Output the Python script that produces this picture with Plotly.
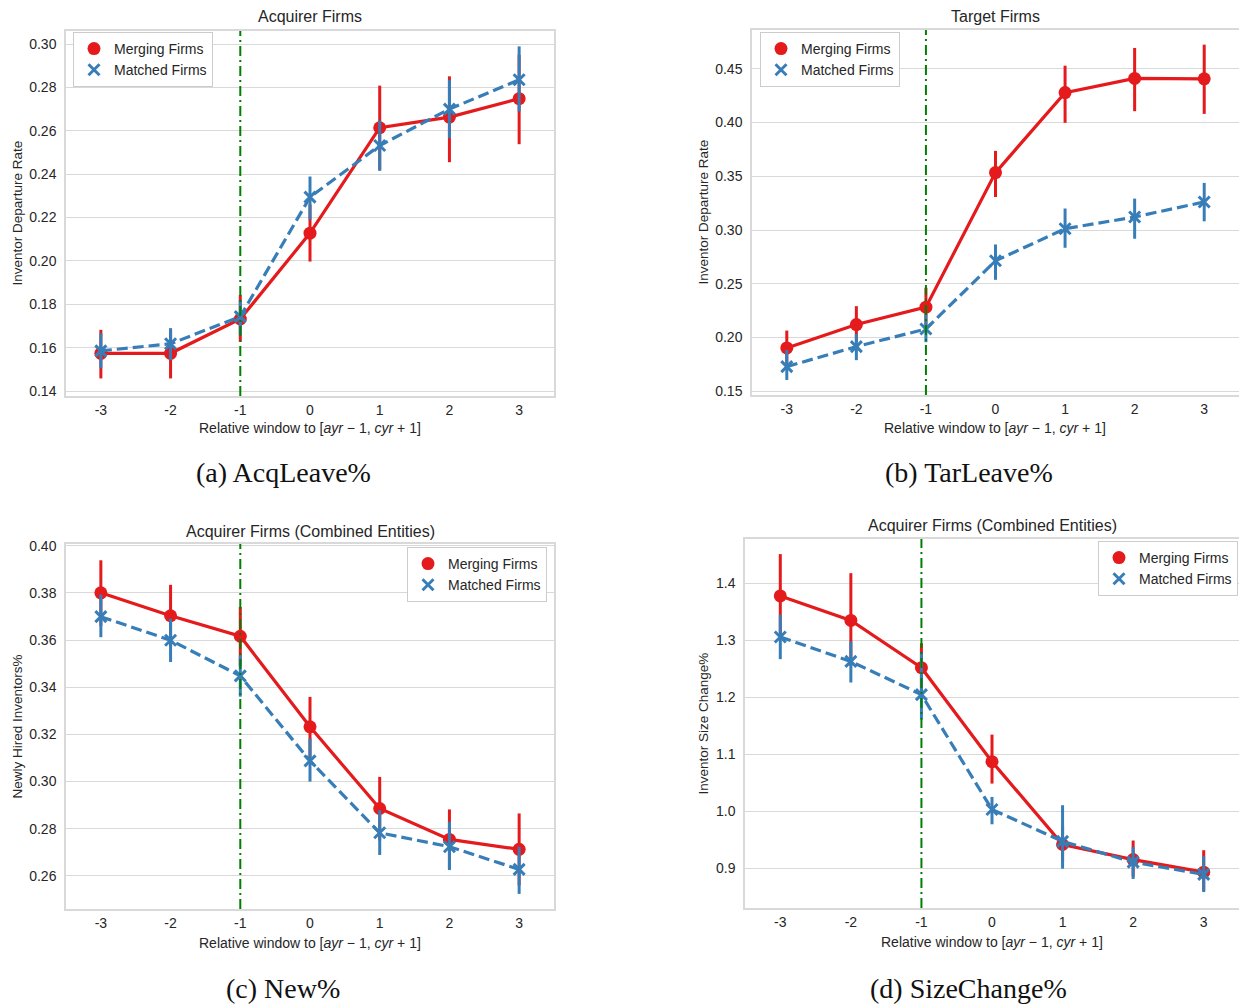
import plotly.graph_objects as go

W, H = 1239, 1005

windows = [-3, -2, -1, 0, 1, 2, 3]
tick_labels = ["-3", "-2", "-1", "0", "1", "2", "3"]

# (a) Acquirer Firms - Inventor Departure Rate
a_merge = [0.1574, 0.1574, 0.1732, 0.2128, 0.2614, 0.2663, 0.2748]
a_merge_lo = [0.1458, 0.1458, 0.1627, 0.1997, 0.2420, 0.2455, 0.2538]
a_merge_hi = [0.1682, 0.1680, 0.1843, 0.2260, 0.2808, 0.2851, 0.2950]
a_match = [0.1585, 0.1618, 0.1743, 0.2294, 0.2532, 0.2700, 0.2835]
a_match_lo = [0.1505, 0.1543, 0.1660, 0.2190, 0.2415, 0.2566, 0.2689]
a_match_hi = [0.1666, 0.1690, 0.1820, 0.2389, 0.2647, 0.2835, 0.2989]

# (b) Target Firms - Inventor Departure Rate
b_merge = [0.1904, 0.2121, 0.2283, 0.3534, 0.4278, 0.4410, 0.4406]
b_merge_lo = [0.1760, 0.1960, 0.2110, 0.3307, 0.3997, 0.4105, 0.4080]
b_merge_hi = [0.2065, 0.2292, 0.2463, 0.3736, 0.4528, 0.4693, 0.4724]
b_match = [0.1730, 0.1916, 0.2080, 0.2714, 0.3012, 0.3121, 0.3261]
b_match_lo = [0.1606, 0.1790, 0.1957, 0.2537, 0.2835, 0.2919, 0.3081]
b_match_hi = [0.1885, 0.2034, 0.2220, 0.2866, 0.3200, 0.3292, 0.3438]

# (c) Acquirer Firms (Combined Entities) - Newly Hired Inventors%
c_merge = [0.3800, 0.3703, 0.3616, 0.3232, 0.2886, 0.2755, 0.2713]
c_merge_lo = [0.3660, 0.3570, 0.3490, 0.3100, 0.2750, 0.2630, 0.2560]
c_merge_hi = [0.3938, 0.3834, 0.3740, 0.3359, 0.3020, 0.2882, 0.2865]
c_match = [0.3699, 0.3599, 0.3448, 0.3088, 0.2783, 0.2724, 0.2628]
c_match_lo = [0.3612, 0.3507, 0.3360, 0.3000, 0.2689, 0.2625, 0.2524]
c_match_hi = [0.3793, 0.3690, 0.3535, 0.3183, 0.2879, 0.2830, 0.2724]

# (d) Acquirer Firms (Combined Entities) - Inventor Size Change%
d_merge = [1.378, 1.335, 1.252, 1.087, 0.9415, 0.915, 0.893]
d_merge_lo = [1.305, 1.255, 1.210, 1.0485, 0.910, 0.885, 0.860]
d_merge_hi = [1.4515, 1.418, 1.295, 1.1345, 0.975, 0.9485, 0.9315]
d_match = [1.306, 1.263, 1.2047, 1.003, 0.947, 0.9105, 0.889]
d_match_lo = [1.267, 1.226, 1.161, 0.977, 0.899, 0.881, 0.858]
d_match_hi = [1.345, 1.298, 1.278, 1.025, 1.0105, 0.937, 0.921]

panels = [
    dict(title="Acquirer Firms", ytitle="Inventor Departure Rate", caption="(a) AcqLeave%",
         merge=(a_merge, a_merge_lo, a_merge_hi), match=(a_match, a_match_lo, a_match_hi),
         px=(66, 554), py=(31, 396), yrange=[0.1377, 0.306], ytv=[0.14, 0.16, 0.18, 0.20, 0.22, 0.24, 0.26, 0.28, 0.30], yfmt=".2f",
         title_y=17, ytitle_x=17, xtitle_y=428, cap_x=283, cap_y=472,
         legend=dict(x=73, y=32, xanchor="left")),
    dict(title="Target Firms", ytitle="Inventor Departure Rate", caption="(b) TarLeave%",
         merge=(b_merge, b_merge_lo, b_merge_hi), match=(b_match, b_match_lo, b_match_hi),
         px=(752, 1239), py=(30, 395), yrange=[0.1466, 0.486], ytv=[0.15, 0.20, 0.25, 0.30, 0.35, 0.40, 0.45], yfmt=".2f",
         title_y=16, ytitle_x=703, xtitle_y=428, cap_x=969, cap_y=472,
         legend=dict(x=760, y=32, xanchor="left")),
    dict(title="Acquirer Firms (Combined Entities)", ytitle="Newly Hired Inventors%", caption="(c) New%",
         merge=(c_merge, c_merge_lo, c_merge_hi), match=(c_match, c_match_lo, c_match_hi),
         px=(66, 554), py=(544, 909), yrange=[0.246, 0.4007], ytv=[0.26, 0.28, 0.30, 0.32, 0.34, 0.36, 0.38, 0.40], yfmt=".2f",
         title_y=531, ytitle_x=17, xtitle_y=943, cap_x=283, cap_y=988,
         legend=dict(x=547, y=547, xanchor="right")),
    dict(title="Acquirer Firms (Combined Entities)", ytitle="Inventor Size Change%", caption="(d) SizeChange%",
         merge=(d_merge, d_merge_lo, d_merge_hi), match=(d_match, d_match_lo, d_match_hi),
         px=(745, 1239), py=(539, 908), yrange=[0.830, 1.478], ytv=[0.9, 1.0, 1.1, 1.2, 1.3, 1.4], yfmt=".1f",
         title_y=525, ytitle_x=703, xtitle_y=942, cap_x=969, cap_y=988,
         legend=dict(x=1238, y=541, xanchor="right")),
]

RED = "#e41a1c"
BLUE = "#377eb8"
GRID = "#d9d9d9"
TXT = "#262626"
SANS = "Liberation Sans, Arial, sans-serif"
SERIF = "Liberation Serif, DejaVu Serif, serif"
XTITLE = "Relative window to [<i>ayr</i> − 1, <i>cyr</i> + 1]"

fig = go.Figure()
layout = dict(
    width=W, height=H, margin=dict(l=0, r=0, t=0, b=0, pad=0, autoexpand=False),
    paper_bgcolor="white", plot_bgcolor="white", showlegend=True,
    font=dict(family=SANS, color=TXT, size=14),
)
annotations = []
shapes = []


def fx(p):
    return p / W


def fy(p):
    return 1 - p / H


for i, p in enumerate(panels):
    n = "" if i == 0 else str(i + 1)
    xa, ya = "x" + n, "y" + n
    lg = "legend" + n
    for key, color, dash, sym, name in [
        ("merge", RED, "solid", "circle", "Merging Firms"),
        ("match", BLUE, "11px,5px", "x-thin", "Matched Firms"),
    ]:
        y, lo, hi = p[key]
        plus = [h - v for h, v in zip(hi, y)]
        minus = [v - l for v, l in zip(y, lo)]
        if sym == "circle":
            mk = dict(symbol="circle", size=13, color=color)
        else:
            mk = dict(symbol="x-thin", size=11, color=color, line=dict(color=color, width=3))
        fig.add_trace(go.Scatter(
            x=windows, y=y, mode="lines+markers", xaxis=xa, yaxis=ya,
            line=dict(color=color, width=3.2, dash=dash), marker=mk,
            error_y=dict(type="data", array=plus, arrayminus=minus, color=color, thickness=3, width=0),
            showlegend=False, hoverinfo="skip",
        ))
        fig.add_trace(go.Scatter(
            x=[None], y=[None], mode="markers", xaxis=xa, yaxis=ya, name=name,
            marker=mk, legend=lg, showlegend=True,
        ))
    layout["xaxis" + n] = dict(
        domain=[fx(p["px"][0]), fx(p["px"][1])], anchor=ya, range=[-3.5, 3.5],
        tickvals=windows, ticktext=tick_labels, showgrid=False, zeroline=False,
        showline=True, mirror=True, linecolor=GRID, linewidth=1.5,
        ticks="", tickfont=dict(size=14, color=TXT, family=SANS), ticklabelstandoff=0,
    )
    layout["yaxis" + n] = dict(
        domain=[fy(p["py"][1]), fy(p["py"][0])], anchor=xa, range=p["yrange"],
        tickvals=p["ytv"], tickformat=p["yfmt"], showgrid=True, gridcolor=GRID, gridwidth=1.3,
        zeroline=False, showline=True, mirror=True, linecolor=GRID, linewidth=1.5,
        ticks="", tickfont=dict(size=14, color=TXT, family=SANS), ticklabelstandoff=5,
    )
    L = p["legend"]
    layout[lg] = dict(
        x=fx(L["x"]), y=fy(L["y"]), xanchor=L["xanchor"], yanchor="top",
        xref="paper", yref="paper",
        bgcolor="white", bordercolor="#cccccc", borderwidth=1,
        font=dict(size=14, color=TXT, family=SANS), itemwidth=30, tracegroupgap=0,
    )
    cx = (p["px"][0] + p["px"][1]) / 2
    annotations.append(dict(text=p["title"], x=fx(cx), y=fy(p["title_y"]), xref="paper", yref="paper",
                            xanchor="center", yanchor="middle", showarrow=False,
                            font=dict(size=16, color=TXT, family=SANS)))
    annotations.append(dict(text=XTITLE, x=fx(cx), y=fy(p["xtitle_y"]), xref="paper", yref="paper",
                            xanchor="center", yanchor="middle", showarrow=False,
                            font=dict(size=14, color=TXT, family=SANS)))
    annotations.append(dict(text=p["ytitle"], x=fx(p["ytitle_x"]), y=fy((p["py"][0] + p["py"][1]) / 2),
                            xref="paper", yref="paper", xanchor="center", yanchor="middle",
                            textangle=-90, showarrow=False, font=dict(size=13.5, color=TXT, family=SANS)))
    annotations.append(dict(text=p["caption"], x=fx(p["cap_x"]), y=fy(p["cap_y"]), xref="paper", yref="paper",
                            xanchor="center", yanchor="middle", showarrow=False,
                            font=dict(size=28, color="#111111", family=SERIF)))
    shapes.append(dict(type="line", xref=xa, yref=ya + " domain", x0=-1, x1=-1, y0=0, y1=1,
                       line=dict(color="green", width=2, dash="10px,4px,2px,4px"), layer="above"))

layout["annotations"] = annotations
layout["shapes"] = shapes
fig.update_layout(**layout)
fig.write_html("out.html")
